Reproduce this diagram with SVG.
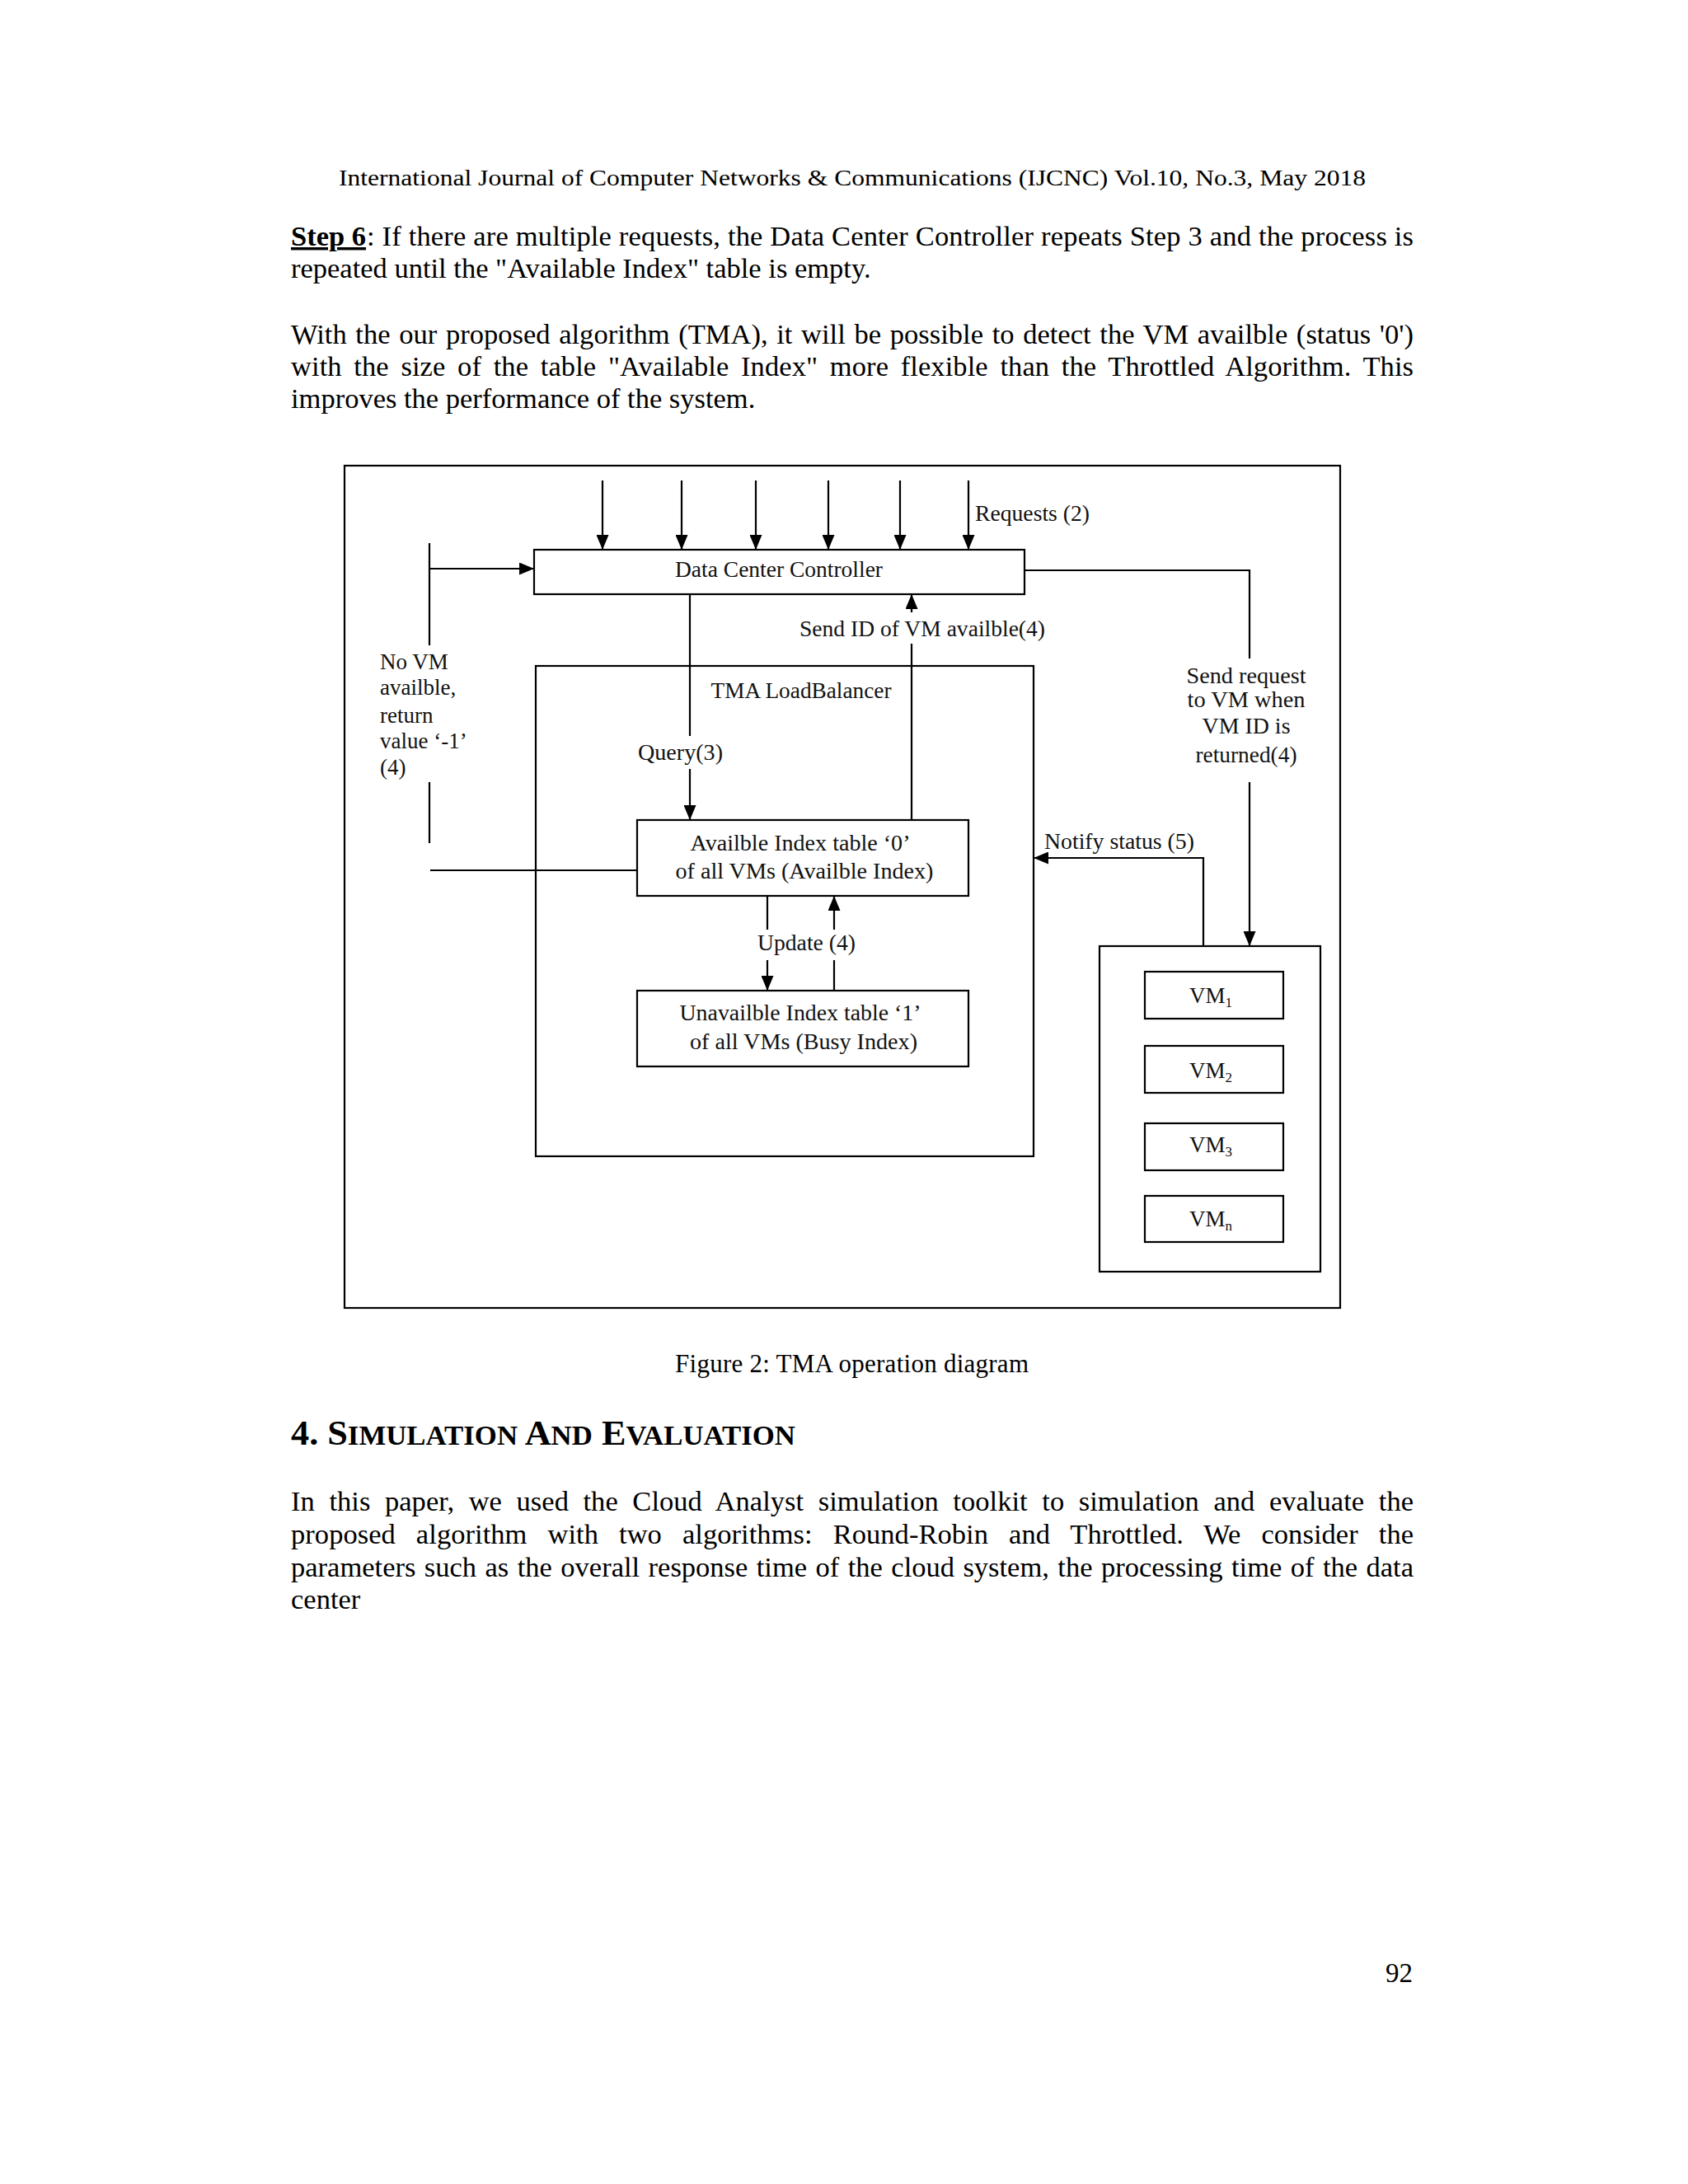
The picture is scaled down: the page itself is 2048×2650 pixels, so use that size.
<svg xmlns="http://www.w3.org/2000/svg" width="2048" height="2650" viewBox="0 0 2048 2650">
<defs>
<style>
.pg{font-family:"Liberation Serif","Times New Roman",serif;fill:#000}
.body{font-size:34.5px}
.dg{font-family:"Liberation Serif","Times New Roman",serif;font-size:27px;fill:#111}
.box{fill:none;stroke:#000;stroke-width:2.2}
.ln{fill:none;stroke:#000;stroke-width:2.2}
.arr{fill:none;stroke:#000;stroke-width:2.2;marker-end:url(#ah)}
.mid{text-anchor:middle}
</style>
<marker id="ah" markerUnits="userSpaceOnUse" markerWidth="18" markerHeight="15" refX="18" refY="7.5" orient="auto">
<path d="M0,0 L18,7.5 L0,15 z" fill="#000"/>
</marker>
</defs>
<rect x="0" y="0" width="2048" height="2650" fill="#fff"/>

<g id="page-text" class="pg">
<text x="411" y="225" font-size="28" textLength="1246" lengthAdjust="spacingAndGlyphs">International Journal of Computer Networks &amp; Communications (IJCNC) Vol.10, No.3, May 2018</text>
<text x="353" y="298" class="body" font-weight="bold" text-decoration="underline">Step 6</text>
<text x="445" y="298" class="body" textLength="1270" lengthAdjust="spacing">: If there are multiple requests, the Data Center Controller repeats Step 3 and the process is</text>
<text x="353" y="337" class="body">repeated until the "Available Index" table is empty.</text>
<text x="353" y="417" class="body" word-spacing="2" textLength="1362" lengthAdjust="spacing">With the our proposed algorithm (TMA), it will be possible to detect the VM availble (status '0')</text>
<text x="353" y="456" class="body" word-spacing="6" textLength="1362" lengthAdjust="spacing">with the size of the table "Available Index" more flexible than the Throttled Algorithm. This</text>
<text x="353" y="495" class="body">improves the performance of the system.</text>
<text x="819" y="1665" font-size="31" textLength="429" lengthAdjust="spacing">Figure 2: TMA operation diagram</text>
<text x="353" y="1753" font-weight="bold" font-size="42" textLength="612" lengthAdjust="spacingAndGlyphs">4. S<tspan font-size="33">IMULATION</tspan> A<tspan font-size="33">ND</tspan> E<tspan font-size="33">VALUATION</tspan></text>
<text x="353" y="1833" class="body" word-spacing="8.9" textLength="1362" lengthAdjust="spacing">In this paper, we used the Cloud Analyst simulation toolkit to simulation and evaluate the</text>
<text x="353" y="1873" class="body" word-spacing="16.3" textLength="1362" lengthAdjust="spacing">proposed algorithm with two algorithms: Round-Robin and Throttled. We consider the</text>
<text x="353" y="1913" class="body" word-spacing="1.8" textLength="1362" lengthAdjust="spacing">parameters such as the overall response time of the cloud system, the processing time of the data</text>
<text x="353" y="1952" class="body">center</text>
<text x="1714" y="2405" font-size="33" text-anchor="end">92</text>
</g>

<g id="frame">
<rect x="418" y="565" width="1208" height="1022" class="box" stroke-width="2.5"/>
</g>

<g id="connectors">
<line x1="731" y1="583" x2="731" y2="667" class="arr"/>
<line x1="827" y1="583" x2="827" y2="667" class="arr"/>
<line x1="917" y1="583" x2="917" y2="667" class="arr"/>
<line x1="1005" y1="583" x2="1005" y2="667" class="arr"/>
<line x1="1092" y1="583" x2="1092" y2="667" class="arr"/>
<line x1="1175" y1="583" x2="1175" y2="667" class="arr"/>
<line x1="521" y1="659" x2="521" y2="783" class="ln"/>
<line x1="521" y1="949" x2="521" y2="1023" class="ln"/>
<line x1="521" y1="690" x2="648" y2="690" class="arr"/>
<line x1="522" y1="1056" x2="773" y2="1056" class="ln"/>
<line x1="837" y1="721" x2="837" y2="893" class="ln"/>
<line x1="837" y1="933" x2="837" y2="995" class="arr"/>
<line x1="1106" y1="995" x2="1106" y2="781" class="ln"/>
<line x1="1106" y1="743" x2="1106" y2="721" class="arr"/>
<line x1="931" y1="1087" x2="931" y2="1128" class="ln"/>
<line x1="931" y1="1165" x2="931" y2="1202" class="arr"/>
<line x1="1012" y1="1202" x2="1012" y2="1165" class="ln"/>
<line x1="1012" y1="1128" x2="1012" y2="1087" class="arr"/>
<polyline points="1243,692 1516,692 1516,799" class="ln"/>
<line x1="1516" y1="949" x2="1516" y2="1148" class="arr"/>
<polyline points="1460,1148 1460,1041 1254,1041" class="arr"/>
</g>

<g id="labels" class="dg">
<text x="1183" y="632" textLength="139" lengthAdjust="spacingAndGlyphs">Requests (2)</text>
<text x="461" y="812">No VM</text>
<text x="461" y="843">availble,</text>
<text x="461" y="877">return</text>
<text x="461" y="908">value ‘-1’</text>
<text x="461" y="940">(4)</text>
<text x="774" y="922" textLength="103" lengthAdjust="spacingAndGlyphs">Query(3)</text>
<text x="970" y="772" textLength="298" lengthAdjust="spacingAndGlyphs">Send ID of VM availble(4)</text>
<text x="919" y="1153" textLength="119" lengthAdjust="spacingAndGlyphs">Update (4)</text>
<text x="1512" y="829" class="mid" textLength="145" lengthAdjust="spacingAndGlyphs">Send request</text>
<text x="1512" y="858" class="mid" textLength="143" lengthAdjust="spacingAndGlyphs">to VM when</text>
<text x="1512" y="890" class="mid" textLength="107" lengthAdjust="spacingAndGlyphs">VM ID is</text>
<text x="1512" y="925" class="mid" textLength="123" lengthAdjust="spacingAndGlyphs">returned(4)</text>
<text x="1267" y="1030" textLength="182" lengthAdjust="spacingAndGlyphs">Notify status (5)</text>
</g>

<g id="dcc">
<rect x="648" y="667" width="595" height="54" class="box"/>
<text x="945" y="700" class="dg mid" textLength="252" lengthAdjust="spacingAndGlyphs">Data Center Controller</text>
</g>

<g id="tma">
<rect x="650" y="808" width="604" height="595" class="box"/>
<text x="972" y="847" class="dg mid" textLength="219" lengthAdjust="spacingAndGlyphs">TMA LoadBalancer</text>
</g>

<g id="avail">
<rect x="773" y="995" width="402" height="92" class="box"/>
<text x="971" y="1032" class="dg mid" textLength="267" lengthAdjust="spacingAndGlyphs">Availble Index table  ‘0’</text>
<text x="976" y="1066" class="dg mid" textLength="313" lengthAdjust="spacingAndGlyphs">of all VMs (Availble Index)</text>
</g>

<g id="unavail">
<rect x="773" y="1202" width="402" height="92" class="box"/>
<text x="971" y="1238" class="dg mid" textLength="293" lengthAdjust="spacingAndGlyphs">Unavailble Index table ‘1’</text>
<text x="975" y="1273" class="dg mid" textLength="276" lengthAdjust="spacingAndGlyphs">of all VMs (Busy Index)</text>
</g>

<g id="vms">
<rect x="1334" y="1148" width="268" height="395" class="box"/>
</g>
<g id="vm1">
<rect x="1389" y="1179" width="168" height="57" class="box"/>
<text x="1443" y="1217" class="dg" font-size="28">VM<tspan font-size="17" dy="5">1</tspan></text>
</g>
<g id="vm2">
<rect x="1389" y="1269" width="168" height="57" class="box"/>
<text x="1443" y="1308" class="dg" font-size="28">VM<tspan font-size="17" dy="5">2</tspan></text>
</g>
<g id="vm3">
<rect x="1389" y="1363" width="168" height="57" class="box"/>
<text x="1443" y="1398" class="dg" font-size="28">VM<tspan font-size="17" dy="5">3</tspan></text>
</g>
<g id="vmn">
<rect x="1389" y="1451" width="168" height="56" class="box"/>
<text x="1443" y="1488" class="dg" font-size="28">VM<tspan font-size="17" dy="5">n</tspan></text>
</g>
</svg>
